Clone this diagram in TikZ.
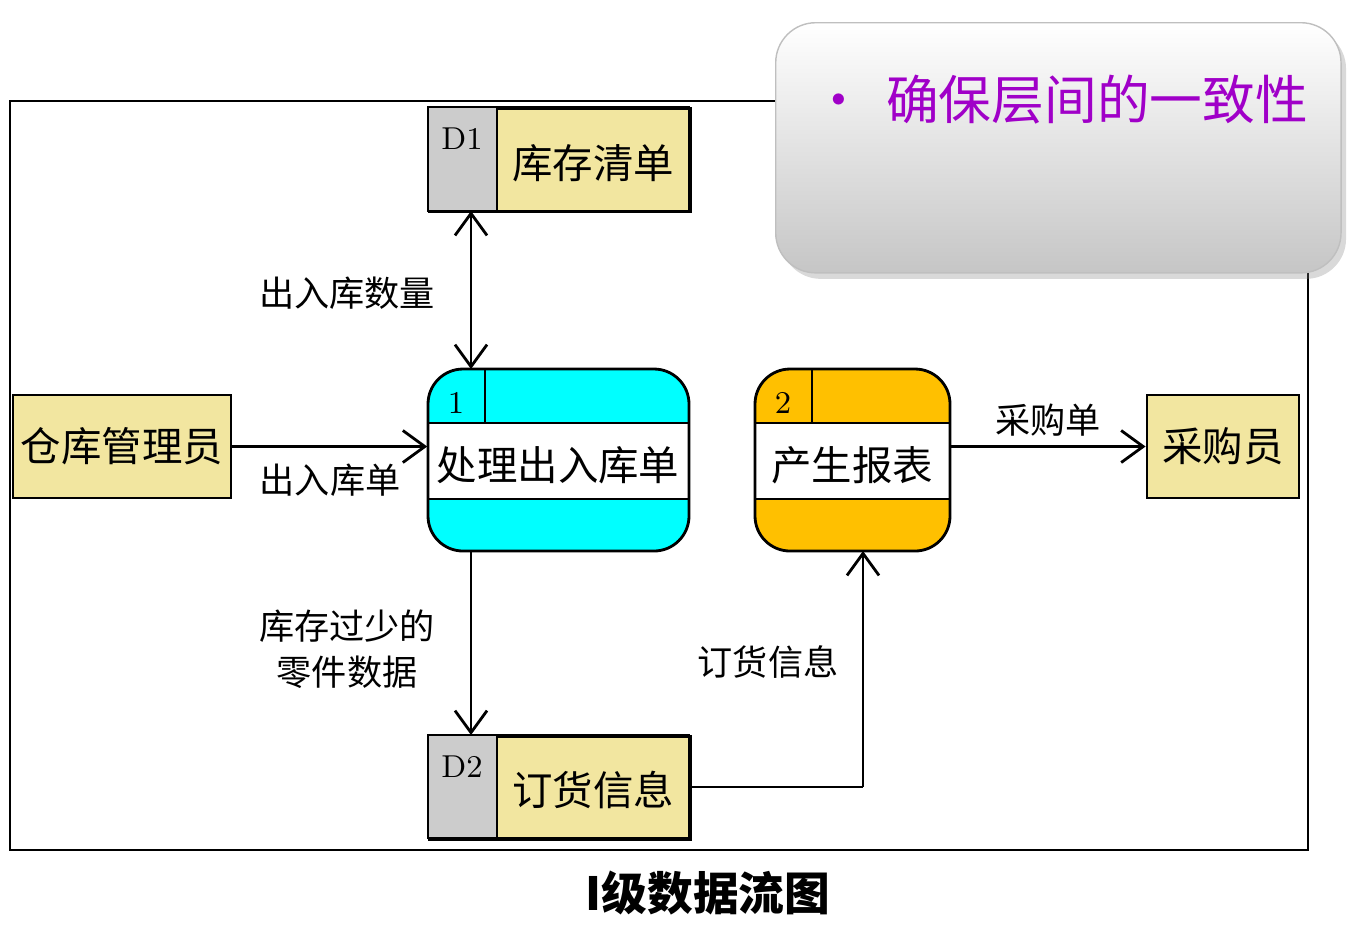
\documentclass[tikz,border=0pt]{standalone}
\usepackage{fontspec}
\newfontfamily\cjk{Noto Sans CJK SC}
\usetikzlibrary{arrows.meta,positioning,shadows}
\definecolor{storeyellow}{HTML}{F2E6A0}
\definecolor{proccyan}{HTML}{00FFFF}
\definecolor{procorange}{HTML}{FFC000}
\definecolor{calloutpurple}{HTML}{A000C8}
\tikzset{
  box/.style={draw, thick, fill=storeyellow, minimum width=#1, minimum height=1.03cm, inner sep=0pt, font=\cjk\fontsize{11.5}{14}\selectfont},
  boxtext/.style={font=\cjk\fontsize{11.5}{14}\selectfont},
  flow/.style={thick, -{Straight Barb[length=2.2mm,width=3.2mm]}},
  lbl/.style={font=\cjk\fontsize{10}{13}\selectfont, align=center},
  proc/.style={rounded corners=0.35cm, minimum height=1.82cm, inner sep=0pt, fill=#1},
}
\begin{document}
\begin{tikzpicture}[x=0.01cm,y=-0.01cm]
    \useasboundingbox (0,0) rectangle (1355,950);
    % outer frame
    \draw[thick] (10,101) rectangle (1308,850);

    % data stores
    \node[box=2.61cm, anchor=north west] (d1) at (428,107) {};
    \fill[gray!40] (d1.north west) rectangle (497,211);
    \draw[thick] (497,107) -- (497,211);
    \draw[thick] (428,107) rectangle (689,211);
    \node[font=\fontsize{9}{10}\selectfont, anchor=north] (d1id) at (462,115) {D1};
    \node[boxtext] (d1t) at (593,163) {库存清单};

    \node[box=2.61cm, anchor=north west] (d2) at (428,735) {};
    \fill[gray!40] (d2.north west) rectangle (497,838);
    \draw[thick] (497,735) -- (497,838);
    \draw[thick] (428,735) rectangle (689,838);
    \node[font=\fontsize{9}{10}\selectfont, anchor=north] (d2id) at (462,743) {D2};
    \node[boxtext] (d2t) at (593,790) {订货信息};

    % external entities
    \node[box=2.18cm] (clerk) at (122,446.5) {仓库管理员};
    \node[box=1.52cm] (buyer) at (1223,446.5) {采购员};

    % processes
    \node[proc=proccyan, minimum width=2.61cm] (p1) at (558.5,460) {};
    \fill[white] (429,423) rectangle (688,499);
    \draw[thick] (428,423) -- (689,423) (428,499) -- (689,499) (485,369) -- (485,423);
    \draw[thick, rounded corners=0.35cm] (428,369) rectangle (689,551);
    \node[font=\fontsize{9}{10}\selectfont] (p1id) at (456,403) {1};
    \node[boxtext] (p1t) at (558,465) {处理出入库单};

    \node[proc=procorange, minimum width=1.95cm] (p2) at (852.5,460) {};
    \fill[white] (756,423) rectangle (949,499);
    \draw[thick] (755,423) -- (950,423) (755,499) -- (950,499) (812,369) -- (812,423);
    \draw[thick, rounded corners=0.35cm] (755,369) rectangle (950,551);
    \node[font=\fontsize{9}{10}\selectfont] (p2id) at (783,403) {2};
    \node[boxtext] (p2t) at (852,465) {产生报表};

    % flows
    \coordinate (a1) at (471,211);
    \coordinate (a2) at (471,369);
    \coordinate (b1) at (471,551);
    \coordinate (b2) at (471,735);
    \coordinate (c1) at (863,551);
    \coordinate (c0) at (863,787);
    \draw[flow, {Straight Barb[length=2.2mm,width=3.2mm]}-{Straight Barb[length=2.2mm,width=3.2mm]}] (a1) -- (a2);
    \draw[flow] (b1) -- (b2);
    \draw[flow] (clerk.east) -- (p1.west |- clerk.east);
    \draw[flow] (p2.east |- buyer.west) -- (buyer.west);
    \draw[thick] (d2.east |- c0) -- (c0);
    \draw[flow] (c0) -- (c1);

    % labels
    \node[lbl] (l1) at (347,293) {出入库数量};
    \node[lbl] (l2) at (330,480) {出入库单};
    \node[lbl, text width=2cm] (l3) at (347,649) {库存过少的\\零件数据};
    \node[lbl] (l4) at (768,662) {订货信息};
    \node[lbl] (l5) at (1048,420) {采购单};

    % caption
    \node[font=\cjk\bfseries\fontsize{13}{16}\selectfont] (cap) at (708,893) {I级数据流图};

    % callout
    \node[draw=gray!50, rounded corners=0.4cm, minimum width=5.65cm, minimum height=2.5cm,
          top color=white, bottom color=gray!45, drop shadow={opacity=0.3, shadow xshift=0.5mm, shadow yshift=-0.6mm}, anchor=north west] (note) at (775,22) {};
    \node[font=\cjk\fontsize{15}{18}\selectfont, text=calloutpurple, anchor=west] (notet) at (800,100) {•\hspace{0.4em}确保层间的一致性};
\end{tikzpicture}
\end{document}
